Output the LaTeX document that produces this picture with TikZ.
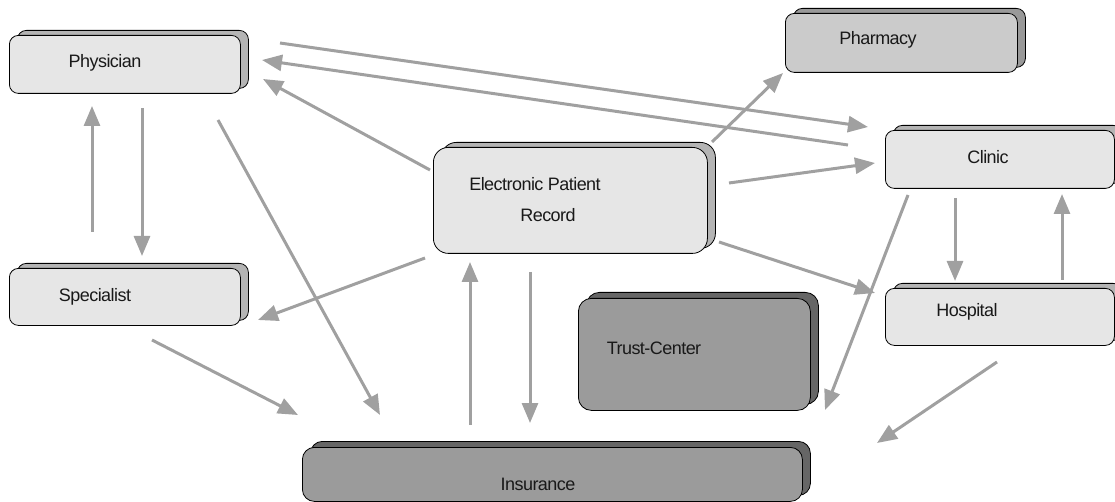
\documentclass[tikz,border=0pt]{standalone}
\usepackage{fontspec}
\setmainfont{Liberation Sans}
\newfontfamily\lblfont[LetterSpace=-3.0]{Liberation Sans}
\usetikzlibrary{shadows,arrows.meta}
\definecolor{light}{HTML}{E6E6E6}
\definecolor{lightback}{HTML}{B4B4B4}
\definecolor{midfill}{HTML}{CBCBCB}
\definecolor{midback}{HTML}{999999}
\definecolor{darkfill}{HTML}{9B9B9B}
\definecolor{darkback}{HTML}{666666}
\definecolor{arrowgray}{HTML}{A0A0A0}
\tikzset{
  box/.style={draw=black, line width=0.8pt, rounded corners=9pt, anchor=north west, inner sep=0pt},
  lightbox/.style={box, fill=light, copy shadow={fill=lightback, draw=black, shadow xshift=8pt, shadow yshift=5pt}},
  midbox/.style={box, fill=midfill, copy shadow={fill=midback, draw=black, shadow xshift=8pt, shadow yshift=5pt}},
  darkbox/.style={box, fill=darkfill, copy shadow={fill=darkback, draw=black, shadow xshift=8pt, shadow yshift=6pt}},
  lbl/.style={font=\lblfont\fontsize{18}{21}\selectfont, text=black!90, inner sep=0pt},
  arr/.style={draw=arrowgray, line width=3pt, -{Triangle[length=20pt,width=16pt]}}
}
\begin{document}
\begin{tikzpicture}[x=1pt,y=-1pt]
\useasboundingbox (0,0) rectangle (1115,502);
% boxes
\node[lightbox, minimum width=231pt, minimum height=58pt] (phys) at (9,35) {};
\node[lightbox, minimum width=231pt, minimum height=57pt] (spec) at (9,268) {};
\node[lightbox, rounded corners=15pt, minimum width=274pt, minimum height=106pt] (epr) at (433,147) {};
\node[darkbox, rounded corners=13pt, minimum width=232pt, minimum height=112pt] (trust) at (578,298) {};
\node[darkbox, rounded corners=12pt, minimum width=500pt, minimum height=54pt] (ins) at (302,447) {};
\node[midbox, minimum width=232pt, minimum height=59pt] (pharm) at (785,13) {};
\node[lightbox, minimum width=229pt, minimum height=58pt] (clinic) at (885,130) {};
\node[lightbox, minimum width=229pt, minimum height=57pt] (hosp) at (885,288) {};
% labels
\node[lbl] (physT) at (105,63) {Physician};
\node[lbl] (specT) at (95,297) {Specialist};
\node[lbl] (eprT1) at (535,184) {Electronic Patient};
\node[lbl] (eprT2) at (548,215) {Record};
\node[lbl] (trustT) at (654,348) {Trust-Center};
\node[lbl] (insT) at (538,484) {Insurance};
\node[lbl] (pharmT) at (878,40) {Pharmacy};
\node[lbl] (clinicT) at (988,157) {Clinic};
\node[lbl] (hospT) at (967,312) {Hospital};
% connector end points
\coordinate (a1s) at (280,43);  \coordinate (a1e) at (868,127);
\coordinate (a2s) at (848,145); \coordinate (a2e) at (262,60);
\coordinate (a3s) at (430,170); \coordinate (a3e) at (263,79);
\coordinate (a4s) at (712,142); \coordinate (a4e) at (783,73);
\coordinate (a5s) at (729,183); \coordinate (a5e) at (875,163);
\coordinate (a6s) at (719,242); \coordinate (a6e) at (875,293);
\coordinate (a7s) at (425,258); \coordinate (a7e) at (258,320);
\coordinate (a8s) at (218,120); \coordinate (a8e) at (380,415);
\coordinate (a9s) at (92,232);  \coordinate (a9e) at (92,106);
\coordinate (a10s) at (142,108); \coordinate (a10e) at (142,256);
\coordinate (a11s) at (152,340); \coordinate (a11e) at (298,415);
\coordinate (a12s) at (470,425); \coordinate (a12e) at (470,262);
\coordinate (a13s) at (530,272); \coordinate (a13e) at (530,423);
\coordinate (a14s) at (908,195); \coordinate (a14e) at (825,410);
\coordinate (a15s) at (955,198); \coordinate (a15e) at (955,281);
\coordinate (a16s) at (1062,280); \coordinate (a16e) at (1062,194);
\coordinate (a17s) at (997,362); \coordinate (a17e) at (877,443);
% connectors
\foreach \i in {1,...,17} { \draw[arr] (a\i s) -- (a\i e); }
\end{tikzpicture}
\end{document}
